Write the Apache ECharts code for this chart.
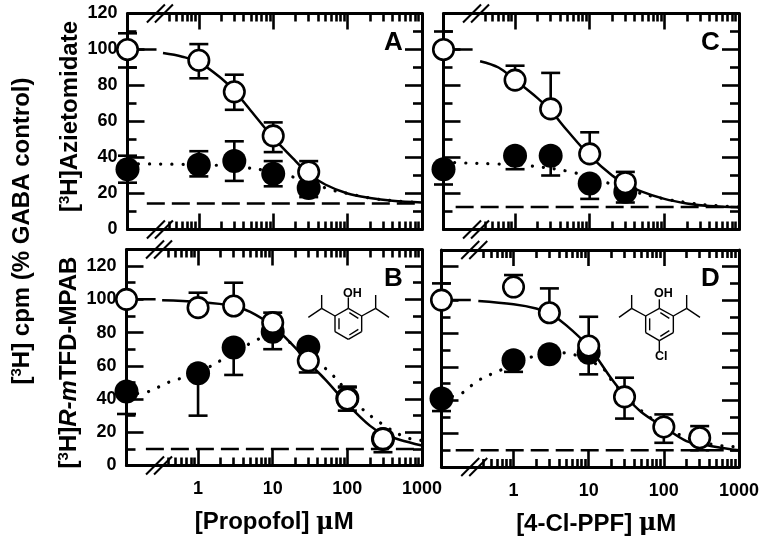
<!DOCTYPE html>
<html><head><meta charset="utf-8">
<script src="https://cdn.jsdelivr.net/npm/echarts@6/dist/echarts.min.js"></script>
<style>html,body{margin:0;padding:0;background:#fff}#c{width:762px;height:537px}</style>
</head><body><div id="c"></div>
<script>
// ---- data (x = concentration in uM; 0.11 = control on the broken axis)
const majorX = [1, 10, 100, 1000];
const minorX = [0.4,0.5,0.6,0.7,0.8,0.9,2,3,4,5,6,7,8,9,20,30,40,50,60,70,80,90,200,300,400,500,600,700,800,900];
const xLabels = ['1','10','100','1000'];
const majorY = [0,20,40,60,80,100,120];
const minorYA = [10,30,50,70,90,110];
const minorYB = [10,30,50,70,90,110];

const doseA = [0.11,1,3,10,30];
const openA = [100,94,76.5,52,32];
const openAHi = [109,103,86,59.5,38];
const openALo = [90,84,66.5,43,null];
const fillA = [33.5,36,38,31,23];
const fillAHi = [41,43.5,49,38,null];
const fillALo = [26,29.5,27,24,18];
const plateauA = [[0.11,100],[0.27,100]];
const solidA = [[0.33,98],[0.6,96],[1,93],[2,84],[3,77],[5,66],[10,51],[20,38],[30,31],[50,25],[100,20],[200,17.5],[400,16],[1000,15]];
const dottedA = [[0.11,36.5],[1,36],[3,35],[10,32],[30,26.5],[60,22],[100,20],[200,17.5],[400,16],[1000,15]];
const dashA = [[0.2,14.5],[1000,14.5]];

const doseB = [0.11,1,3,10,30,100,300];
const openB = [100,95,96,86,63,40,16];
const openBHi = [null,104,110,92,null,47.5,null];
const openBLo = [null,null,null,null,56,33,8];
const fillB = [44.5,55.5,71,80.5,71.5,40.5,16];
const fillBHi = [null,null,null,null,null,47,null];
const fillBLo = [31,30,54.5,70,null,null,null];
const plateauB = [[0.11,100],[0.27,100]];
const solidB = [[0.33,99.5],[1,98.5],[3,96],[5,92.5],[10,84],[20,71],[30,62],[50,52],[100,37],[200,24],[300,19],[500,15.5],[1000,12]];
const dottedB = [[0.11,43],[0.2,44],[0.4,50],[1,56],[2.7,66.5],[6.4,76],[10,78],[20,72],[60,55.5],[147,35.5],[270,26],[600,17],[1000,15]];
const dashB = [[0.2,10],[1000,10]];

const doseC = [0.11,1,3,10,30];
const openC = [100,83,67,42,26];
const openCHi = [110,91,87,54,32];
const openCLo = [null,null,null,null,null];
const fillC = [33.5,41,41,25.5,21];
const fillCHi = [null,null,null,null,null];
const fillCLo = [25,33.5,30,17,15];
const plateauC = [[0.11,100],[0.27,100]];
const solidC = [[0.34,93.5],[0.6,90],[1,83],[2,73],[3,66],[5,55],[10,41],[20,30],[30,25.5],[50,21],[100,17],[200,14.5],[400,13],[1000,12.3]];
const dottedC = [[0.11,37.5],[0.2,37],[0.5,36.5],[1.4,35.6],[5.6,32],[17,26],[40,21],[100,17],[200,15],[400,13.5],[1000,12.5]];
const dashC = [[0.16,12.5],[1000,12.5]];

const doseD = [0.11,1,3,10,30,100,300];
const openD = [100,107.8,92.4,72.5,42,24,17.5];
const openDHi = [110,115,107,90,53.5,31.5,24.5];
const openDLo = [null,null,null,null,29,14.5,10];
const fillD = [41,64,67.5,68.5,null,null,null];
const fillDHi = [null,null,null,null,null,null,null];
const fillDLo = [33.5,57,null,55.5,null,null,null];
const plateauD = [[0.11,100],[0.27,100]];
const solidD = [[0.34,99.5],[1,97.5],[2,95],[3,92],[5,85],[10,72],[20,53],[30,43],[50,33],[100,24],[200,15.5],[300,14],[500,12],[1000,10]];
const dottedD = [[0.11,41],[0.2,44],[0.33,51.5],[0.63,57.5],[1,61],[1.9,66.5],[3.5,68.5],[5.4,68],[15,59.5],[22,49.5],[51,33.5],[150,20],[450,13.5],[1000,12]];
const dashD = [[0.17,10],[1000,10]];

const breakDose = 0.3;
const FONT = '"Liberation Sans", Arial, sans-serif';
const makeRich = (fs) => ({
  n:{fontFamily:FONT,fontWeight:'bold',fontSize:fs,color:'#000'},
  i:{fontFamily:FONT,fontWeight:'bold',fontStyle:'italic',fontSize:fs,color:'#000'},
  s:{fontFamily:FONT,fontWeight:'bold',fontSize:Math.round(fs*0.62),color:'#000',padding:[0,0,Math.round(fs*0.45),0]},
  u:{fontFamily:'"DejaVu Serif","Liberation Serif",serif',fontWeight:'bold',fontSize:fs,color:'#000'}
});

const panels = [
 {key:'A',left:127.5,width:294.5,top:13.5,height:216,ymax:120,dose:doseA,open:openA,oh:openAHi,ol:openALo,fill:fillA,fh:fillAHi,fl:fillALo,plateau:plateauA,solid:solidA,dotted:dottedA,dash:dashA,minorY:minorYA,
  yName:'{n|[}{s|3}{n|H]Azietomidate}',yGap:44,yPad:[0,0,0,10]},
 {key:'B',left:126.5,width:295.5,top:249.5,height:216,ymax:130,dose:doseB,open:openB,oh:openBHi,ol:openBLo,fill:fillB,fh:fillBHi,fl:fillBLo,plateau:plateauB,solid:solidB,dotted:dottedB,dash:dashB,minorY:minorYB,bottom:true,
  yName:'{n|[}{s|3}{n|H]}{i|R-m}{n|TFD-MPAB}',yGap:44,yPad:[0,10,0,0],xName:'{n|[Propofol] }{u|\u03BC}{n|M}'},
 {key:'C',left:443.5,width:295.5,top:13.5,height:216,ymax:120,dose:doseC,open:openC,oh:openCHi,ol:openCLo,fill:fillC,fh:fillCHi,fl:fillCLo,plateau:plateauC,solid:solidC,dotted:dottedC,dash:dashC,minorY:minorYA},
 {key:'D',left:441.5,width:297.5,top:250,height:217,ymax:130,dose:doseD,open:openD,oh:openDHi,ol:openDLo,fill:fillD,fh:fillDHi,fl:fillDLo,plateau:plateauD,solid:solidD,dotted:dottedD,dash:dashD,minorY:minorYB,bottom:true,
  xName:'{n|[4-Cl-PPF] }{u|\u03BC}{n|M}'}
];

const AX=3, TK=2.6;
const grid=[],xAxis=[],yAxis=[],series=[],graphic=[];

function errSeries(gi,xi,yi,z,dose,vals,hi,lo){
  const rows=dose.map((d,i)=>vals[i]==null?null:[d,vals[i],lo[i]==null?vals[i]:lo[i],hi[i]==null?vals[i]:hi[i]]).filter(Boolean);
  return {type:'custom',xAxisIndex:xi,yAxisIndex:yi,z,clip:false,silent:true,data:rows,
    renderItem(p,api){
      const x=api.value(0),y=api.value(1),l=api.value(2),h=api.value(3);
      const c0=api.coord([x,l]),c1=api.coord([x,h]);
      const ls={stroke:'#000',lineWidth:TK,fill:null};
      const ch=[{type:'line',shape:{x1:c0[0],y1:c0[1],x2:c1[0],y2:c1[1]},style:ls}];
      if(l!==y)ch.push({type:'line',shape:{x1:c0[0]-9.5,y1:c0[1],x2:c0[0]+9.5,y2:c0[1]},style:ls});
      if(h!==y)ch.push({type:'line',shape:{x1:c1[0]-9.5,y1:c1[1],x2:c1[0]+9.5,y2:c1[1]},style:ls});
      return {type:'group',children:ch};
    }};
}

panels.forEach((p,g)=>{
  grid.push({left:p.left,top:p.top,width:p.width,height:p.height,containLabel:false});
  const xi=xAxis.length, yi=yAxis.length;
  const xBase={type:'log',logBase:10,min:0.11,max:1000,gridIndex:g,splitLine:{show:false},silent:true};
  const yBase={type:'value',min:0,max:p.ymax,gridIndex:g,splitLine:{show:false},silent:true};
  const tick=(vals,len)=>({show:true,inside:true,length:len,customValues:vals,lineStyle:{color:'#000',width:TK}});
  const noLine={show:false,onZero:false};
  const blackLine={show:true,onZero:false,lineStyle:{color:'#000',width:AX}};
  xAxis.push(Object.assign({},xBase,{position:'bottom',axisLine:blackLine,axisTick:tick(majorX,16),
    axisLabel:p.bottom?{show:true,customValues:majorX,formatter:v=>xLabels[majorX.indexOf(Math.round(v))],fontFamily:FONT,fontWeight:'bold',fontSize:18,color:'#000',margin:15,hideOverlap:false,showMinLabel:true,showMaxLabel:true}:{show:false},
    name:p.xName||'',nameLocation:'middle',nameGap:45,nameTextStyle:{rich:makeRich(24),padding:p.key==='D'?[0,0,0,12]:0}}));
  xAxis.push(Object.assign({},xBase,{position:'bottom',axisLine:noLine,axisTick:tick(minorX,8),axisLabel:{show:false}}));
  xAxis.push(Object.assign({},xBase,{position:'top',axisLine:blackLine,axisTick:tick(majorX,16),axisLabel:{show:false}}));
  xAxis.push(Object.assign({},xBase,{position:'top',axisLine:noLine,axisTick:tick(minorX,8),axisLabel:{show:false}}));
  const left=p.key==='A'||p.key==='B';
  yAxis.push(Object.assign({},yBase,{position:'left',axisLine:blackLine,axisTick:tick(majorY,17),
    axisLabel:left?{show:true,customValues:majorY,fontFamily:FONT,fontWeight:'bold',fontSize:18,color:'#000',margin:10}:{show:false},
    name:p.yName||'',nameLocation:'middle',nameGap:p.yGap||0,nameRotate:90,nameTextStyle:{rich:makeRich(24),padding:p.yPad||0}}));
  yAxis.push(Object.assign({},yBase,{position:'left',axisLine:noLine,axisTick:tick(p.minorY,9),axisLabel:{show:false}}));
  yAxis.push(Object.assign({},yBase,{position:'right',axisLine:blackLine,axisTick:tick(majorY,17),axisLabel:{show:false}}));
  yAxis.push(Object.assign({},yBase,{position:'right',axisLine:noLine,axisTick:tick(p.minorY,9),axisLabel:{show:false}}));

  const line=(data,style,z)=>({type:'line',xAxisIndex:xi,yAxisIndex:yi,data,showSymbol:false,symbol:'none',smooth:data.length>2?0.35:false,z,silent:true,clip:true,lineStyle:style});
  series.push(line(p.dash,{color:'#000',width:2.5,type:[18,7]},2));
  series.push(line(p.dotted,{color:'#000',width:3.2,type:[0.1,11],cap:'round'},3));
  series.push(errSeries(g,xi,yi,4,p.dose,p.fill,p.fh,p.fl));
  series.push({type:'scatter',xAxisIndex:xi,yAxisIndex:yi,z:5,silent:true,clip:false,symbol:'circle',symbolSize:24,itemStyle:{color:'#000',opacity:1},
    data:p.dose.map((d,i)=>[d,p.fill[i]]).filter(r=>r[1]!=null)});
  series.push(line(p.plateau,{color:'#000',width:2.5},6));
  series.push(line(p.solid,{color:'#000',width:2.5},6));
  series.push(errSeries(g,xi,yi,7,p.dose,p.open,p.oh,p.ol));
  series.push({type:'scatter',xAxisIndex:xi,yAxisIndex:yi,z:8,silent:true,clip:false,symbol:'circle',symbolSize:20.5,itemStyle:{color:'#fff',borderColor:'#000',borderWidth:2.6,opacity:1},
    data:p.dose.map((d,i)=>[d,p.open[i]])});
  // axis-break slashes
  series.push({type:'custom',xAxisIndex:xi,yAxisIndex:yi,z:9,clip:false,silent:true,data:[[breakDose,0],[breakDose,p.ymax]],
    renderItem(pr,api){
      const c=api.coord([api.value(0),api.value(1)]);
      const ls={stroke:'#000',lineWidth:2,fill:null};
      return {type:'group',children:[-4,4].map(o=>({type:'line',shape:{x1:c[0]+o-9,y1:c[1]+9,x2:c[0]+o+9,y2:c[1]-9},style:ls}))};
    }});
  graphic.push({type:'text',left:p.left+p.width-38,top:p.top+16,style:{text:p.key,font:'bold 26px '+FONT,fill:'#000'},z:20});
});

// outer y label
graphic.push({type:'text',x:22,y:231,rotation:Math.PI/2,style:{text:'{n|[}{s|3}{n|H] cpm (% GABA control)}',rich:makeRich(24),align:'center',verticalAlign:'middle'},z:20});

// chemical structures (decoration), coordinates from the picture
function bonds(list,ox,oy){
  list.forEach(b=>graphic.push({type:'line',shape:{x1:ox+b[0]/3,y1:oy+b[1]/3,x2:ox+b[2]/3,y2:oy+b[3]/3},style:{stroke:'#000',lineWidth:1.4},z:20}));
}
const propofol=[[1045,205,1085,228],[1085,228,1085,275],[1085,275,1045,298],[1045,298,1005,275],[1005,275,1005,228],[1005,228,1045,205],
 [1017,235,1017,268],[1048,285,1075,268],[1048,218,1075,235],[1045,205,1045,172],
 [1005,228,965,205],[965,205,965,165],[965,205,925,232],[1085,228,1127,205],[1127,205,1127,165],[1127,205,1167,232]];
bonds(propofol,0,240);
graphic.push({type:'text',left:343,top:287,style:{text:'OH',font:'bold 12.5px '+FONT,fill:'#000'},z:20});
const clppf=[[748,205,790,228],[790,228,790,278],[790,278,748,302],[748,302,707,278],[707,278,707,228],[707,228,748,205],
 [719,235,719,271],[751,289,778,272],[751,218,778,235],[748,205,748,178],[748,302,748,333],
 [707,228,665,205],[665,205,665,165],[665,205,627,232],[790,228,830,205],[830,205,830,165],[830,205,870,232]];
bonds(clppf,410,240);
graphic.push({type:'text',left:654,top:287,style:{text:'OH',font:'bold 12.5px '+FONT,fill:'#000'},z:20});
graphic.push({type:'text',left:655,top:350,style:{text:'Cl',font:'bold 12.5px '+FONT,fill:'#000'},z:20});

const chart=echarts.init(document.getElementById('c'),null,{renderer:'canvas'});
chart.setOption({animation:false,backgroundColor:'#fff',grid,xAxis,yAxis,series,graphic,tooltip:{show:false},legend:{show:false}});
</script>
</body></html>
